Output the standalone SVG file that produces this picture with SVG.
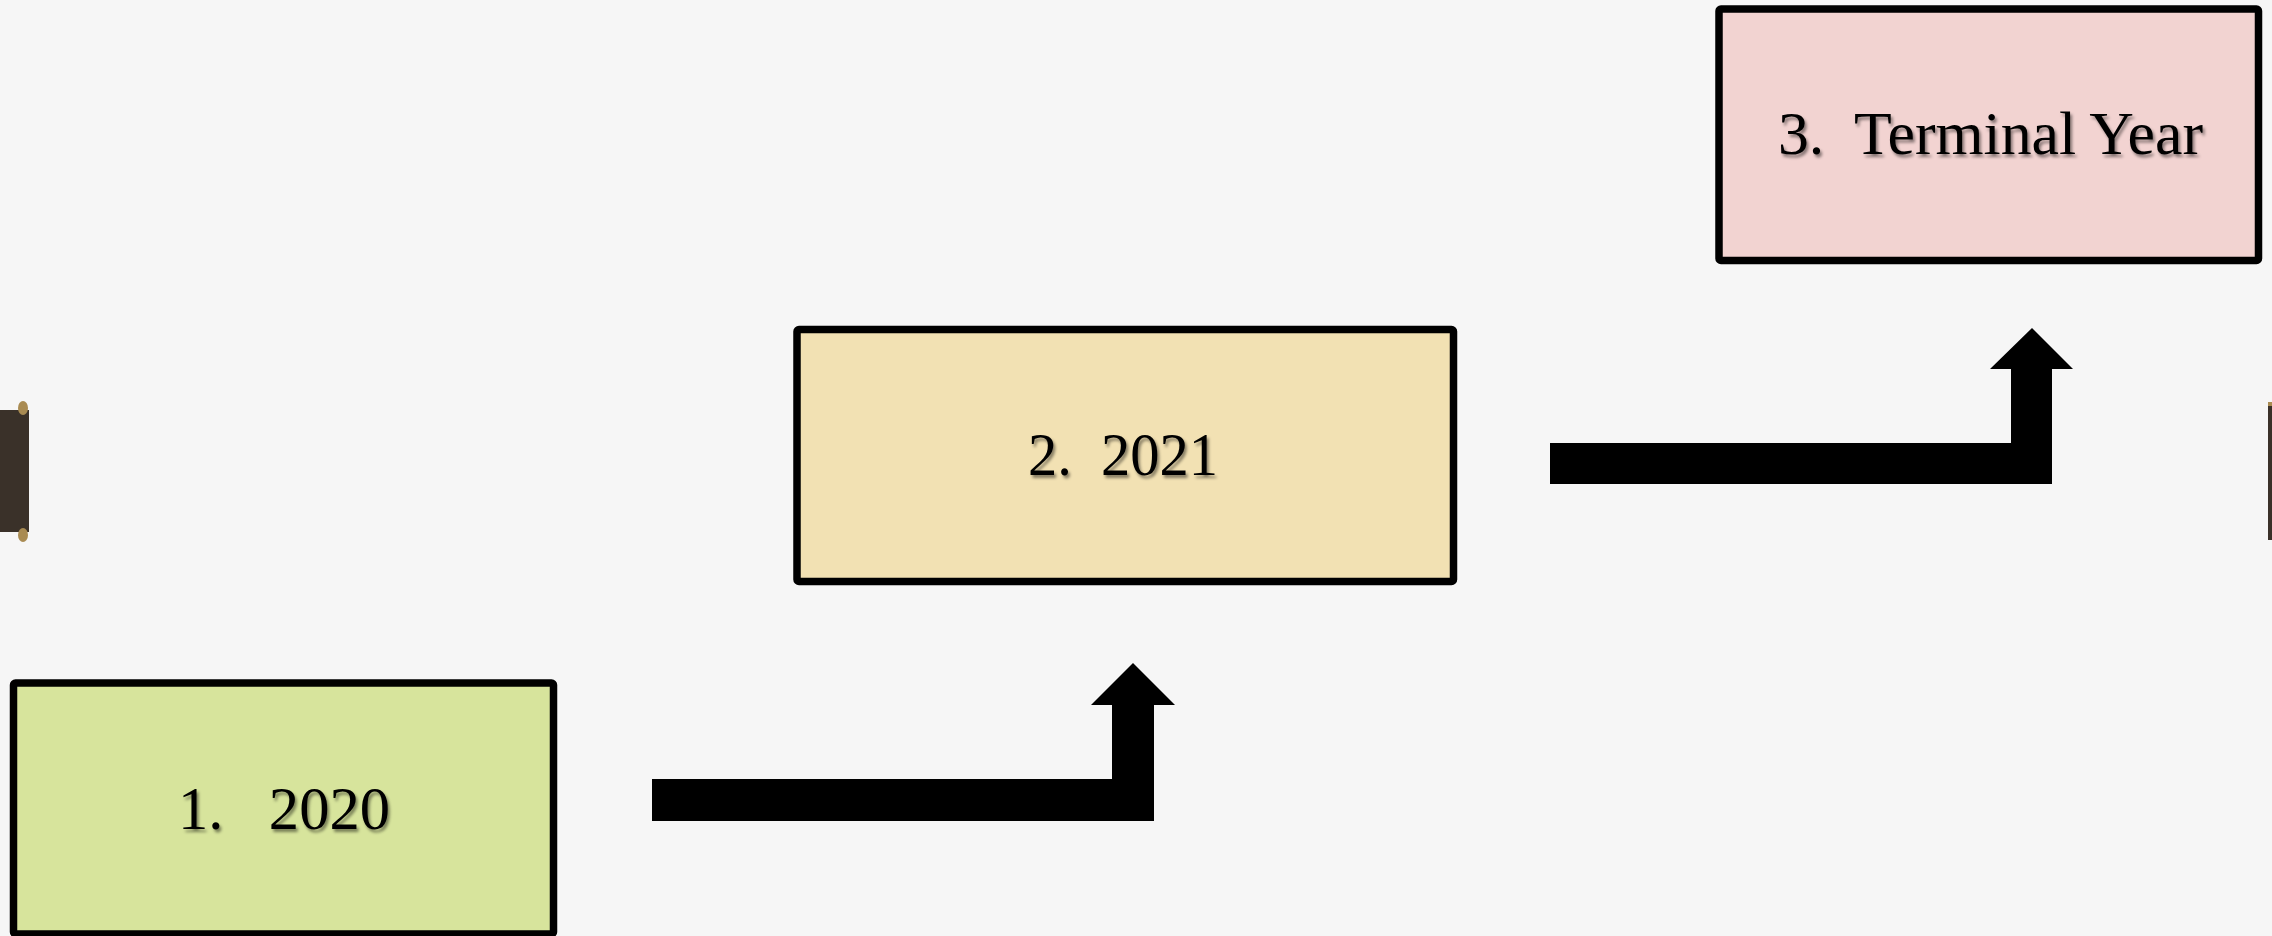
<svg xmlns="http://www.w3.org/2000/svg" width="2272" height="936" viewBox="0 0 2272 936">
<defs>
<style>
.box{stroke:#000;stroke-width:7.5;stroke-linejoin:round}
.lbl{font-family:"Liberation Serif","Times New Roman",serif;font-size:62px;fill:#000;filter:url(#sh)}
.arrow{fill:#000}
</style>
<filter id="sh" x="-10%" y="-30%" width="120%" height="160%">
<feDropShadow dx="2" dy="3" stdDeviation="1.5" flood-color="#000" flood-opacity="0.45"/>
</filter>
</defs>
<rect x="0" y="0" width="2272" height="936" fill="#f6f6f6"/>
<g id="edge-left">
<rect x="0" y="410" width="29" height="122" fill="#3a3129"/>
<ellipse cx="23" cy="408" rx="5" ry="7" fill="#a98b52"/>
<ellipse cx="23" cy="535" rx="5" ry="7" fill="#a98b52"/>
</g>
<g id="edge-right">
<rect x="2268" y="404" width="4" height="136" fill="#3a3129"/>
<rect x="2268" y="402" width="4" height="4" fill="#a98b52"/>
</g>
<g id="connectors">
<path class="arrow" d="M652,779 H1112 V705 H1091 L1133,663 L1175,705 H1154 V821 H652 Z"/>
<path class="arrow" d="M1550,443 H2011 V369 H1990 L2032,328 L2073,369 H2052 V484 H1550 Z"/>
</g>
<g id="node-2020">
<rect class="box" x="13.5" y="683" width="540" height="251" rx="2" fill="#d7e49c"/>
<text class="lbl" x="178" y="829" textLength="212" lengthAdjust="spacingAndGlyphs" xml:space="preserve">1.   2020</text>
</g>
<g id="node-2021">
<rect class="box" x="797" y="329.5" width="656.5" height="252" rx="2" fill="#f2e1b3"/>
<text class="lbl" x="1028" y="475" textLength="190" lengthAdjust="spacingAndGlyphs" xml:space="preserve">2.  2021</text>
</g>
<g id="node-terminal">
<rect class="box" x="1719" y="9" width="539.5" height="251.5" rx="2" fill="#f2d3d1"/>
<text class="lbl" x="1778" y="154" textLength="425" lengthAdjust="spacingAndGlyphs" xml:space="preserve">3.  Terminal Year</text>
</g>
</svg>
